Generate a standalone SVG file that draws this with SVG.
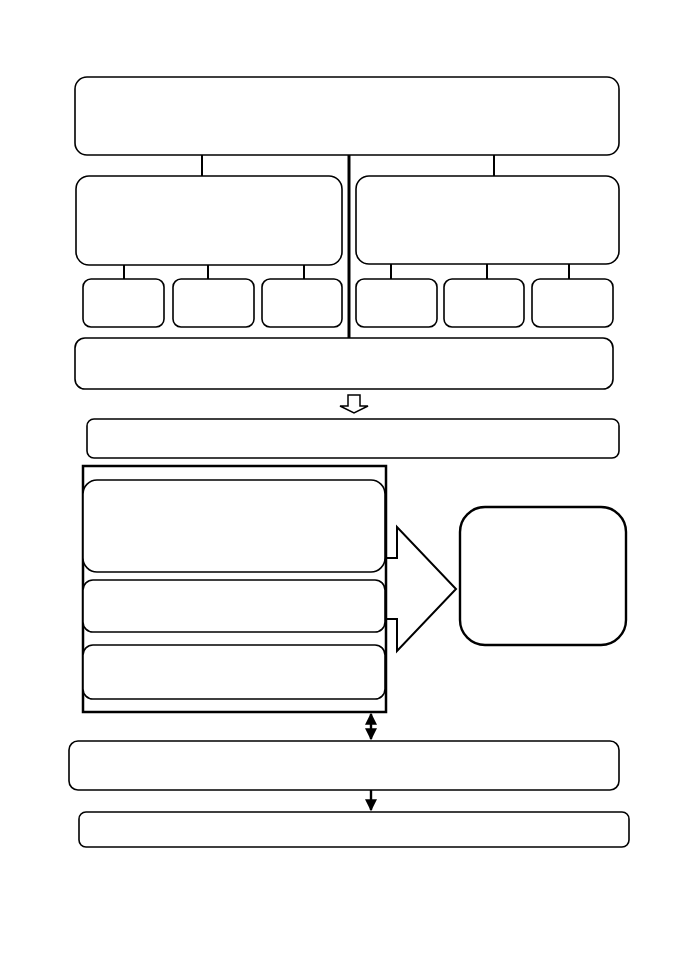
<svg xmlns="http://www.w3.org/2000/svg" width="678" height="960" viewBox="0 0 678 960">
<style>
.n{fill:#fff;stroke:#000;stroke-width:1.6}
.c{stroke:#000;stroke-width:2;fill:none}
</style>
<defs>
<marker id="ah" viewBox="0 0 10 10" refX="9" refY="5" markerWidth="5" markerHeight="5" orient="auto-start-reverse"><path d="M0,0L10,5L0,10z" fill="#000"/></marker>
</defs>
<rect width="678" height="960" fill="#fff"/>
<g id="connectors">
<line class="c" x1="202" y1="155" x2="202" y2="176"/>
<line class="c" x1="494" y1="155" x2="494" y2="176"/>
<line class="c" style="stroke-width:3" x1="349" y1="155" x2="349" y2="338"/>
<line class="c" x1="124" y1="265" x2="124" y2="279"/>
<line class="c" x1="208" y1="265" x2="208" y2="279"/>
<line class="c" x1="304" y1="265" x2="304" y2="279"/>
<line class="c" x1="391" y1="264" x2="391" y2="279"/>
<line class="c" x1="487" y1="264" x2="487" y2="279"/>
<line class="c" x1="569" y1="264" x2="569" y2="279"/>
<path class="c" style="stroke-width:1.5;fill:#fff" d="M348,395H360V406H368L354,413L340,406H348Z"/>
<path class="c" style="fill:#fff" d="M386,558H397V527L456,589L397,651V619H386"/>
<line class="c" style="stroke-width:2.4" x1="371" y1="714" x2="371" y2="739" marker-start="url(#ah)" marker-end="url(#ah)"/>
<line class="c" style="stroke-width:2.4" x1="371" y1="790" x2="371" y2="810" marker-end="url(#ah)"/>
</g>
<g id="top"><rect class="n" x="75" y="77" width="544" height="78" rx="12"/></g>
<g id="midL"><rect class="n" x="76" y="176" width="266" height="89" rx="13"/></g>
<g id="midR"><rect class="n" x="356" y="176" width="263" height="88" rx="13"/></g>
<g id="s1"><rect class="n" x="83" y="279" width="81" height="48" rx="8"/></g>
<g id="s2"><rect class="n" x="173" y="279" width="81" height="48" rx="8"/></g>
<g id="s3"><rect class="n" x="262" y="279" width="80" height="48" rx="8"/></g>
<g id="s4"><rect class="n" x="356" y="279" width="81" height="48" rx="8"/></g>
<g id="s5"><rect class="n" x="444" y="279" width="80" height="48" rx="8"/></g>
<g id="s6"><rect class="n" x="532" y="279" width="81" height="48" rx="8"/></g>
<g id="bar1"><rect class="n" x="75" y="338" width="538" height="51" rx="10"/></g>
<g id="bar2"><rect class="n" x="87" y="419" width="532" height="39" rx="7"/></g>
<g id="container"><rect x="83" y="466" width="303" height="246" fill="none" stroke="#000" stroke-width="2.5"/></g>
<g id="in1"><rect class="n" x="83" y="480" width="302" height="92" rx="14"/></g>
<g id="in2"><rect class="n" x="83" y="580" width="302" height="52" rx="10"/></g>
<g id="in3"><rect class="n" x="83" y="645" width="302" height="54" rx="10"/></g>
<g id="right"><rect class="n" style="stroke-width:2.4" x="460" y="507" width="166" height="138" rx="25"/></g>
<g id="bar3"><rect class="n" x="69" y="741" width="550" height="49" rx="9"/></g>
<g id="bar4"><rect class="n" x="79" y="812" width="550" height="35" rx="7"/></g>
</svg>
